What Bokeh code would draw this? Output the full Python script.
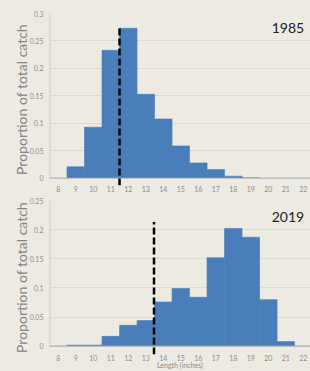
from bokeh.plotting import figure
from bokeh.layouts import column
from bokeh.models import (ColumnDataSource, Range1d, FixedTicker, NumeralTickFormatter,
                          Label, GlobalInlineStyleSheet)
from bokeh.embed import file_html
from bokeh.resources import INLINE

# ---- data ----
lengths = [8, 9, 10, 11, 12, 13, 14, 15, 16, 17, 18, 19, 20, 21, 22]
catch_1985 = [0.0, 0.021, 0.093, 0.233, 0.273, 0.153, 0.108, 0.059, 0.028, 0.016, 0.004, 0.001, 0.0, 0.0, 0.0]
catch_2019 = [0.0, 0.002, 0.002, 0.017, 0.036, 0.044, 0.076, 0.099, 0.084, 0.152, 0.202, 0.187, 0.080, 0.008, 0.0]
mean_1985 = 11.5
mean_2019 = 13.47
top_1985 = 0.2745
top_2019 = 0.213
ticks_1985 = [0, 0.05, 0.1, 0.15, 0.2, 0.25, 0.3]
ticks_2019 = [0, 0.05, 0.1, 0.15, 0.2, 0.25]
years = ["1985", "2019"]

BG = "#EDEAE1"
BAR = "#4A7EBB"
GRID = "#DCD9D0"
AXIS = "#CFCCC3"
TXT = "#8C8C8C"
FONT = "Lato"

css = GlobalInlineStyleSheet(
    css=f"html, body {{ background: {BG}; overflow: hidden; }} body {{ margin: 8px 0 0 8px; }}")


def make(vals, ticks, ymin, ymax, mean, dash_top, year, year_y, height, top_border, bottom_border, xlabel):
    p = figure(width=302, height=height, output_backend="svg", toolbar_location=None,
               x_range=Range1d(7.5, 22.41), y_range=Range1d(ymin, ymax),
               min_border_left=41, min_border_right=0, min_border_top=top_border,
               min_border_bottom=bottom_border)
    p.background_fill_color = BG
    p.border_fill_color = BG
    p.outline_line_color = None
    src = ColumnDataSource(dict(x=lengths, top=vals))
    p.vbar(x="x", top="top", bottom=0, width=1, source=src, fill_color=BAR, line_color=BAR, line_width=0.6)
    # axis lines at zero
    p.segment(x0=[7.5], y0=[0], x1=[22.5], y1=[0], line_color=AXIS, line_width=1)
    p.segment(x0=[7.5], y0=[0], x1=[7.5], y1=[ticks[-1]], line_color=AXIS, line_width=2)
    # mean line
    p.segment(x0=[mean], y0=[ymin], x1=[mean], y1=[dash_top], line_color="black",
              line_width=2.5, line_dash="7 3")
    p.add_layout(Label(x=22.05, y=year_y, text=year, text_align="right", text_baseline="middle",
                       text_font=FONT, text_font_size="14px", text_color="#222222"))
    # axes
    p.xgrid.grid_line_color = None
    p.ygrid.grid_line_color = GRID
    p.ygrid.ticker = FixedTicker(ticks=ticks)
    p.yaxis.ticker = FixedTicker(ticks=ticks)
    p.yaxis.formatter = NumeralTickFormatter(format="0.[00]")
    p.xaxis.ticker = FixedTicker(ticks=lengths)
    for ax in (p.xaxis, p.yaxis):
        ax.axis_line_color = None
        ax.major_tick_line_color = None
        ax.minor_tick_line_color = None
        ax.major_tick_in = 0
        ax.major_tick_out = 0
        ax.major_label_text_font = FONT
        ax.major_label_text_font_size = "7px"
        ax.major_label_text_color = TXT
    p.xaxis.major_label_standoff = 0
    p.yaxis.major_label_standoff = 6
    p.yaxis.axis_label = "Proportion of total catch"
    p.yaxis.axis_label_text_font = FONT
    p.yaxis.axis_label_text_font_style = "normal"
    p.yaxis.axis_label_text_font_size = "14px"
    p.yaxis.axis_label_text_color = "#858585"
    p.yaxis.axis_label_standoff = -3
    if xlabel:
        p.xaxis.axis_label = xlabel
        p.xaxis.axis_label_text_font = FONT
        p.xaxis.axis_label_text_font_style = "normal"
        p.xaxis.axis_label_text_font_size = "7px"
        p.xaxis.axis_label_text_color = TXT
        p.xaxis.axis_label_standoff = -3
    return p


p1 = make(catch_1985, ticks_1985, -0.013, 0.3, mean_1985, top_1985, years[0], 0.273,
          188, 5, 11, None)
p2 = make(catch_2019, ticks_2019, -0.0141, 0.25, mean_2019, top_2019, years[1], 0.2225,
          175, 4, 17, "Length (inches)")

layout = column(p1, p2, spacing=0)
layout.stylesheets = [css]

open("out.html", "w").write(file_html(layout, INLINE))
